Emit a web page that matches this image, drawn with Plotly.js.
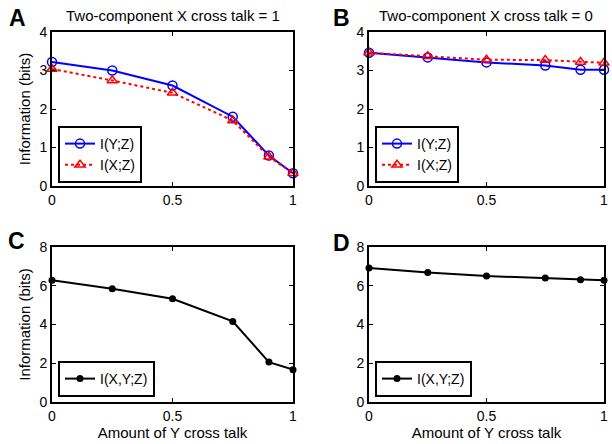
<!DOCTYPE html>
<html><head><meta charset="utf-8">
<script src="https://cdn.plot.ly/plotly-3.0.1.min.js"></script>
<style>html,body{margin:0;padding:0;background:#fff}</style>
</head><body>
<div id="chart" style="width:612px;height:444px"></div>
<script>
var xCross = [0, 0.25, 0.5, 0.75, 0.9, 1];
var aIYZ = [3.22, 3.00, 2.61, 1.80, 0.79, 0.33];
var aIXZ = [3.04, 2.74, 2.42, 1.70, 0.76, 0.33];
var bIYZ = [3.46, 3.34, 3.21, 3.13, 3.02, 3.02];
var bIXZ = [3.46, 3.37, 3.28, 3.27, 3.22, 3.20];
var cIXYZ = [6.28, 5.85, 5.33, 4.16, 2.06, 1.67];
var dIXYZ = [6.92, 6.68, 6.50, 6.40, 6.31, 6.28];
var panelTitles = ["Two-component X cross talk = 1", "Two-component X cross talk = 0"];
var panelLetters = ["A", "B", "C", "D"];
var xTitle = "Amount of Y cross talk";
var yTitle = "Information (bits)";

var FONT = "Liberation Sans, Arial, sans-serif";
function blue(x, y, xa, ya, lg) {
  return {x: x, y: y, xaxis: xa, yaxis: ya, legend: lg, name: "I(Y;Z)", mode: "lines+markers",
    line: {color: "#0000ff", width: 2}, cliponaxis: false,
    marker: {symbol: "circle-open", size: 9, color: "#0000ff", line: {width: 1.5, color: "#0000ff"}}};
}
function red(x, y, xa, ya, lg) {
  return {x: x, y: y, xaxis: xa, yaxis: ya, legend: lg, name: "I(X;Z)", mode: "lines+markers",
    line: {color: "#ff0000", width: 2, dash: "dot"}, cliponaxis: false,
    marker: {symbol: "triangle-up-open", size: 9, color: "#ff0000", line: {width: 1.5, color: "#ff0000"}}};
}
function blk(x, y, xa, ya, lg) {
  return {x: x, y: y, xaxis: xa, yaxis: ya, legend: lg, name: "I(X,Y;Z)", mode: "lines+markers",
    line: {color: "#000000", width: 2}, cliponaxis: false,
    marker: {symbol: "circle", size: 7, color: "#000000"}};
}
var data = [
  blue(xCross, aIYZ, "x", "y", "legend"),
  red(xCross, aIXZ, "x", "y", "legend"),
  blue(xCross, bIYZ, "x2", "y2", "legend2"),
  red(xCross, bIXZ, "x2", "y2", "legend2"),
  blk(xCross, cIXYZ, "x3", "y3", "legend3"),
  blk(xCross, dIXYZ, "x4", "y4", "legend4")
];

var W = 612, H = 444;
var colX = [[52, 293], [369, 604]];
var rowY = [[32, 186], [247, 402]];
function xd(c) { return [colX[c][0] / W, colX[c][1] / W]; }
function yd(r) { return [1 - rowY[r][1] / H, 1 - rowY[r][0] / H]; }
var TICKF = {family: FONT, size: 14, color: "#000"};
var TITF = {family: FONT, size: 15, color: "#000"};
function xax(c, anchor, title) {
  var a = {domain: xd(c), anchor: anchor, range: [0, 1], tickvals: [0, 0.5, 1], ticktext: ["0", "0.5", "1"],
    showline: true, mirror: "ticks", linewidth: 2, linecolor: "#000", ticks: "inside", ticklen: 4,
    tickcolor: "#000", tickwidth: 1, showgrid: false, zeroline: false, ticklabeloverflow: "allow",
    tickfont: TICKF};
  if (title) a.title = {text: title, font: TITF, standoff: 1};
  return a;
}
function yax(r, anchor, max, dt, title) {
  var a = {domain: yd(r), anchor: anchor, range: [0, max], dtick: dt, tick0: 0,
    showline: true, mirror: "ticks", linewidth: 2, linecolor: "#000", ticks: "inside", ticklen: 4,
    tickcolor: "#000", tickwidth: 1, showgrid: false, zeroline: false, ticklabeloverflow: "allow",
    tickfont: TICKF};
  if (title) a.title = {text: title, font: TITF, standoff: 5};
  return a;
}
function leg(x, yb) {
  return {x: x / W, y: 1 - yb / H, xanchor: "left", yanchor: "bottom", bgcolor: "#fff",
    bordercolor: "#000", borderwidth: 2, font: {family: FONT, size: 14, color: "#000"},
    tracegroupgap: 0, itemwidth: 30};
}
var ann = [];
[0, 1].forEach(function (c) {
  ann.push({text: panelTitles[c], x: (colX[c][0] + colX[c][1]) / 2 / W, y: 1 - 15.5 / H, xref: "paper", yref: "paper",
    xanchor: "center", yanchor: "middle", showarrow: false, font: TITF});
});
var letterPos = [[17, 18], [341, 18], [16, 241], [341, 243]];
panelLetters.forEach(function (L, i) {
  ann.push({text: "<b>" + L + "</b>", x: letterPos[i][0] / W, y: 1 - letterPos[i][1] / H, xref: "paper", yref: "paper",
    xanchor: "center", yanchor: "middle", showarrow: false, font: {family: FONT, size: 23, color: "#000"}});
});

var layout = {
  width: W, height: H, margin: {l: 0, r: 0, t: 0, b: 0}, paper_bgcolor: "#fff", plot_bgcolor: "#fff",
  font: {family: FONT, color: "#000"}, showlegend: true,
  xaxis: xax(0, "y"), yaxis: yax(0, "x", 4, 1, yTitle),
  xaxis2: xax(1, "y2"), yaxis2: yax(0, "x2", 4, 1),
  xaxis3: xax(0, "y3", xTitle), yaxis3: yax(1, "x3", 8, 2, yTitle),
  xaxis4: xax(1, "y4", xTitle), yaxis4: yax(1, "x4", 8, 2),
  legend: leg(58, 183), legend2: leg(375, 183), legend3: leg(58, 397), legend4: leg(375, 397),
  annotations: ann
};
Plotly.newPlot("chart", data, layout, {staticPlot: true, displayModeBar: false});
</script>
</body></html>
